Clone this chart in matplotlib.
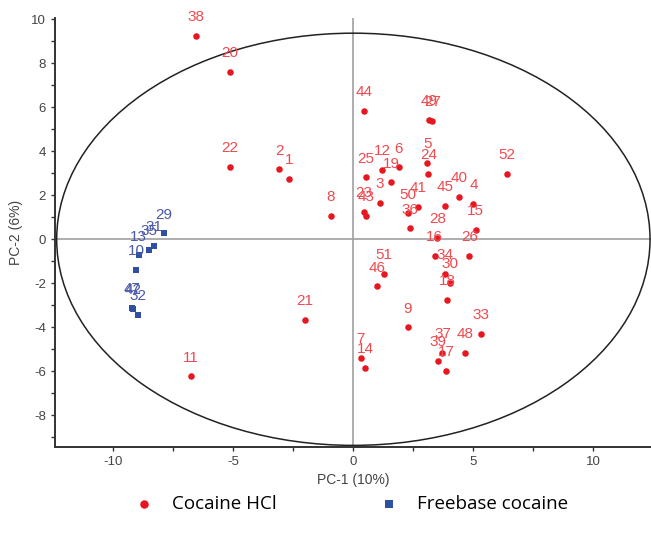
import matplotlib
matplotlib.use("Agg")
import matplotlib.pyplot as plt
from matplotlib.patches import Ellipse
from matplotlib.ticker import MultipleLocator

plt.rcParams["axes.unicode_minus"] = False

# ---- data ----
hcl_labels = ["38", "20", "22", "2", "1", "8", "21", "11",
              "44", "49", "27", "5", "24", "52", "25", "12", "6", "19", "3",
              "40", "4", "45", "41", "50", "23", "43", "36", "15",
              "28", "16", "26", "51", "34", "46", "30", "18", "9", "33",
              "48", "37", "39", "17", "7", "14"]
hcl_x = [-6.55, -5.15, -5.15, -3.08, -2.69, -0.94, -2.01, -6.76,
         0.45, 3.17, 3.29, 3.08, 3.13, 6.38, 0.52, 1.21, 1.90, 1.57, 1.10,
         4.40, 5.00, 3.82, 2.68, 2.27, 0.45, 0.53, 2.36, 5.10,
         3.50, 3.39, 4.83, 1.29, 3.81, 0.99, 4.02, 3.92, 2.27, 5.31,
         4.67, 3.71, 3.54, 3.86, 0.31, 0.50]
hcl_y = [9.24, 7.60, 3.30, 3.18, 2.75, 1.07, -3.67, -6.23,
         5.85, 5.44, 5.38, 3.47, 2.98, 2.98, 2.82, 3.15, 3.27, 2.59, 1.65,
         1.94, 1.60, 1.53, 1.47, 1.18, 1.25, 1.06, 0.50, 0.42,
         0.05, -0.74, -0.74, -1.56, -1.56, -2.14, -1.97, -2.76, -4.00, -4.30,
         -5.17, -5.17, -5.53, -5.99, -5.40, -5.86]

free_labels = ["29", "31", "35", "13", "10", "42", "47", "32"]
free_x = [-7.89, -8.29, -8.50, -8.94, -9.05, -9.19, -9.22, -8.98]
free_y = [0.27, -0.30, -0.49, -0.73, -1.40, -3.15, -3.12, -3.45]

series_names = ["Cocaine HCl", "Freebase cocaine"]
x_title = "PC-1 (10%)"
y_title = "PC-2 (6%)"

# Hotelling ellipse radii
ell_rx = 12.36
ell_ry = 9.37

red = "#e8161e"
red_txt = "#ef4a4f"
blue = "#2f4fa2"
blue_txt = "#4a5aa8"

fig = plt.figure(figsize=(6.51, 5.35), dpi=100)
ax = fig.add_axes([55 / 651, (535 - 446.7) / 535, 596 / 651, 428.7 / 535])
ax.set_xlim(-12.43, 12.40)
ax.set_ylim(-9.43, 10.06)

ax.axhline(0, color="#a0a0a0", lw=1.2, zorder=1)
ax.axvline(0, color="#a0a0a0", lw=1.2, zorder=1)
ax.add_patch(Ellipse((0, 0), 2 * ell_rx, 2 * ell_ry, fill=False,
                     edgecolor="#222222", lw=1.1, zorder=2))

h1 = ax.scatter(hcl_x, hcl_y, s=22, marker="o", color=red, zorder=3,
                linewidths=0, label=series_names[0])
h2 = ax.scatter(free_x, free_y, s=24, marker="s", color=blue, zorder=3,
                linewidths=0, label=series_names[1])

for lab, x, y in zip(hcl_labels, hcl_x, hcl_y):
    ax.annotate(lab, (x, y), xytext=(0, 13.5), textcoords="offset points",
                ha="center", va="center", fontsize=11, color=red_txt,
                family="Liberation Sans", zorder=4)
for lab, x, y in zip(free_labels, free_x, free_y):
    ax.annotate(lab, (x, y), xytext=(0, 13.5), textcoords="offset points",
                ha="center", va="center", fontsize=11, color=blue_txt,
                family="Liberation Sans", zorder=4)

for side in ["top", "right"]:
    ax.spines[side].set_visible(False)
for side in ["left", "bottom"]:
    ax.spines[side].set_color("#333333")
    ax.spines[side].set_linewidth(1.4)

ax.xaxis.set_major_locator(MultipleLocator(5))
ax.xaxis.set_minor_locator(MultipleLocator(2.5))
ax.yaxis.set_major_locator(MultipleLocator(2))
ax.yaxis.set_minor_locator(MultipleLocator(1))
ax.tick_params(which="both", direction="out", length=3, width=1,
               color="#333333", labelsize=9.5, labelcolor="#444444")
for t in ax.get_xticklabels() + ax.get_yticklabels():
    t.set_family("Liberation Sans")

ax.set_xlabel(x_title, fontsize=10, color="#444444", family="Liberation Sans",
              labelpad=4)
ax.set_ylabel(y_title, fontsize=10, color="#444444", family="Liberation Sans",
              labelpad=6)

fig.legend(handles=[h1, h2], labels=series_names, loc="center",
           bbox_to_anchor=(0.533, 0.058), ncol=2, frameon=False,
           prop={"family": "Open Sans", "size": 13.5},
           columnspacing=5.0, handletextpad=0.5, markerscale=1.3)

fig.savefig("out.png", dpi=100)
